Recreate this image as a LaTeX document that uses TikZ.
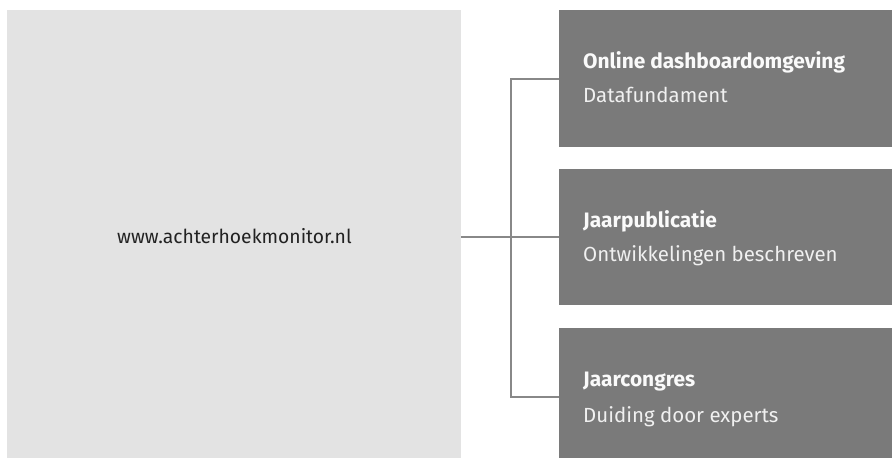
\documentclass[tikz,border=0pt]{standalone}
\usepackage{fontspec}
\setmainfont{Fira Sans}
\definecolor{lightbox}{HTML}{E3E3E3}
\definecolor{darkbox}{HTML}{7A7A7A}
\definecolor{linkgray}{HTML}{888888}
\definecolor{urltext}{HTML}{222222}
\definecolor{titletext}{HTML}{FAFAFA}
\definecolor{subtext}{HTML}{F0F0F0}
\tikzset{
  bigbox/.style={fill=lightbox, draw=none, inner sep=0pt, minimum width=454bp, minimum height=448bp, anchor=north west},
  itembox/.style={fill=darkbox, draw=none, inner sep=0pt, minimum width=333bp, minimum height=137bp, anchor=north west},
  titlelbl/.style={anchor=base west, inner sep=0pt, text=titletext, font=\fontsize{20.9bp}{24bp}\selectfont\bfseries},
  sublbl/.style={anchor=base west, inner sep=0pt, text=subtext, font=\fontsize{20.45bp}{24bp}\selectfont},
  urllbl/.style={anchor=base west, inner sep=0pt, text=urltext, font=\fontsize{19.3bp}{24bp}\selectfont},
  connector/.style={draw=linkgray, line width=2.2bp}
}
\begin{document}
\begin{tikzpicture}[x=1bp, y=-1bp]
\useasboundingbox (0,0) rectangle (892,458);
\node[bigbox] (left) at (7,10) {};
\node[itembox] (b1) at (559,10) {};
\node[itembox, minimum height=136bp] (b2) at (559,169) {};
\node[itembox] (b3) at (559,328) {};
\node[urllbl] (url) at (117,244) {www.achterhoekmonitor.nl};
\node[titlelbl] (t1) at (583,69) {Online dashboardomgeving};
\node[sublbl] (s1) at (583,103) {Datafundament};
\node[titlelbl] (t2) at (583,228) {Jaarpublicatie};
\node[sublbl] (s2) at (583,262) {Ontwikkelingen beschreven};
\node[titlelbl] (t3) at (583,387) {Jaarcongres};
\node[sublbl] (s3) at (583,422) {Duiding door experts};
\coordinate (j) at (511,238);
\draw[connector] (left.east |- b2.west) -- (b2.west);
\draw[connector] (b1.west) -| (j) |- (b3.west);
\end{tikzpicture}
\end{document}
